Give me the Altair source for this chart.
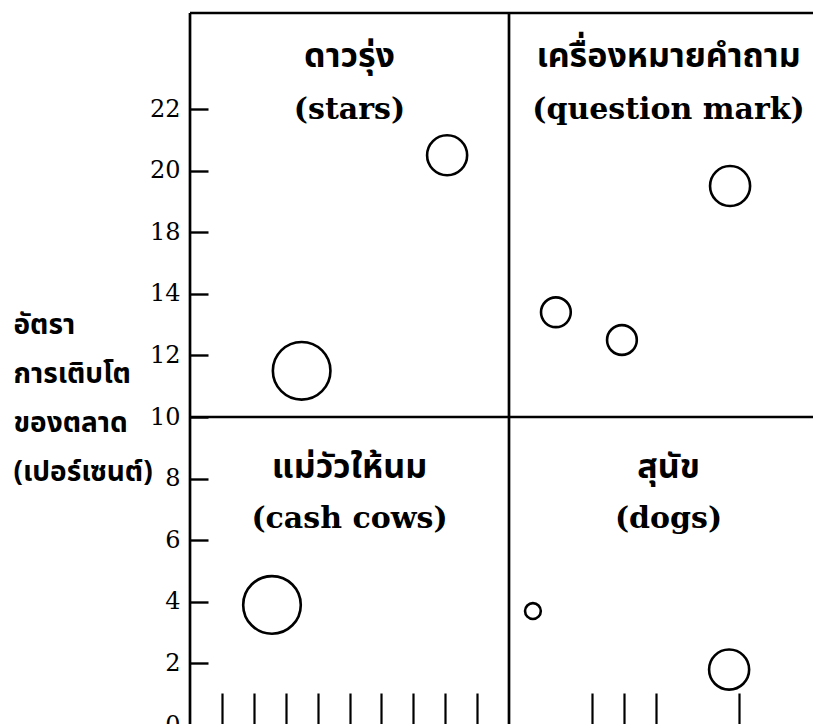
import altair as alt
import pandas as pd

# ---- data ----
share = [3.5, 8.06, 16.93, 11.47, 13.54, 2.57, 10.75, 16.9]      # relative market share position
growth = [11.5, 20.5, 19.5, 13.4, 12.5, 3.9, 3.7, 1.8]           # market growth rate (%)
sales = [12, 5.8, 5.8, 3.2, 3.2, 12, 0.9, 5.8]                   # business size

y_ticks = [0, 2, 4, 6, 8, 10, 12, 14, 18, 20, 22]
x_ticks = [1, 2, 3, 4, 5, 6, 7, 8, 9, 12.6, 13.6, 14.6, 17.2]

quad_x = [5, 15, 5, 15]
quad_th = ["ดาวรุ่ง", "เครื่องหมายคำถาม", "แม่วัวให้นม", "สุนัข"]
quad_en = ["(stars)", "(question mark)", "(cash cows)", "(dogs)"]
quad_th_y = [23.69, 23.69, 8.34, 8.34]
quad_en_y = [21.97, 21.97, 6.69, 6.69]

v_lines = [0, 10]
h_lines = [10, 25.12]

y_title = ["อัตรา", "การเติบโต", "ของตลาด", "(เปอร์เซนต์)"]

THAI = "Noto Sans Thai, Noto Sans Thai UI, Loma, Garuda, Noto Sans, sans-serif"
SERIF = "DejaVu Serif"

x_scale = alt.Scale(domain=[0, 20], range=[0, 638], nice=False, zero=False)
y_scale = alt.Scale(domain=[0, 14, 18, 25.12], range=[712, 280.8, 219.2, 0], nice=False, zero=False)

pts = pd.DataFrame({"share": share, "growth": growth, "sales": sales})
quads = pd.DataFrame({"x": quad_x, "th": quad_th, "en": quad_en, "thy": quad_th_y, "eny": quad_en_y})

circles = alt.Chart(pts).mark_point(
    shape="circle", filled=False, color="black", strokeWidth=2.6, opacity=1
).encode(
    x=alt.X("share:Q", scale=x_scale,
            axis=alt.Axis(values=x_ticks, labels=False, domain=False, tickSize=32,
                          tickWidth=2.2, tickColor="black", offset=-31, title=None, grid=False)),
    y=alt.Y("growth:Q", scale=y_scale,
            axis=alt.Axis(values=y_ticks, domain=False, grid=False, offset=-18, tickSize=18,
                          tickWidth=2.4, tickColor="black", labelPadding=10,
                          labelFont=SERIF, labelFontSize=24, labelColor="black",
                          title=y_title, titleAngle=0, titleAlign="left",
                          titleBaseline="alphabetic", titleX=-195, titleY=320,
                          titleFont=THAI, titleFontSize=28, titleFontWeight="bold",
                          titleLineHeight=49, titleColor="black")),
    size=alt.Size("sales:Q", scale=alt.Scale(domain=[0, 12], range=[0, 3318]), legend=None),
)

vrules = alt.Chart(pd.DataFrame({"x": v_lines})).mark_rule(color="black", strokeWidth=2.7).encode(
    x=alt.X("x:Q", scale=x_scale)
)
hrules = alt.Chart(pd.DataFrame({"y": h_lines})).mark_rule(color="black", strokeWidth=2.7).encode(
    y=alt.Y("y:Q", scale=y_scale)
)

th_text = alt.Chart(quads).mark_text(
    font=THAI, fontSize=34, fontWeight="bold", color="black", align="center", baseline="middle"
).encode(
    x=alt.X("x:Q", scale=x_scale), y=alt.Y("thy:Q", scale=y_scale), text="th:N"
)
en_text = alt.Chart(quads).mark_text(
    font=SERIF, fontSize=30, fontWeight="bold", color="black", align="center", baseline="middle"
).encode(
    x=alt.X("x:Q", scale=x_scale), y=alt.Y("eny:Q", scale=y_scale), text="en:N"
)

chart = alt.layer(vrules, hrules, circles, th_text, en_text).properties(
    width=623, height=711,
    autosize=alt.AutoSizeParams(type="none"),
    padding={"left": 182, "top": 5, "right": 0, "bottom": 0},
).configure_view(stroke=None).configure(background="white")

chart.save("out.html", embed_options={"renderer": "svg", "actions": False})
